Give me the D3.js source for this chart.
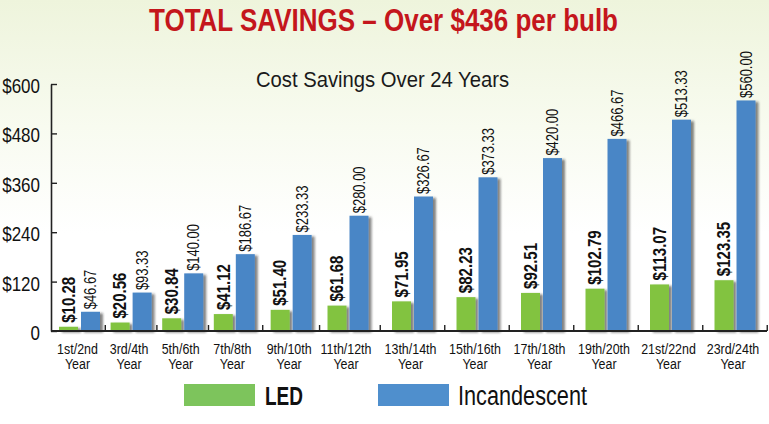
<!DOCTYPE html>
<html>
<head>
<meta charset="utf-8">
<script src="https://cdn.jsdelivr.net/npm/d3@7/dist/d3.min.js"></script>
<style>
  html, body { margin: 0; padding: 0; background: #fff; }
  svg { display: block; }
  text { font-family: "Liberation Sans", Arial, sans-serif; }
</style>
</head>
<body>
<svg id="chart" width="769" height="424"></svg>
<script>
// ---- data ----
const categories = ["1st/2nd", "3rd/4th", "5th/6th", "7th/8th", "9th/10th", "11th/12th",
                    "13th/14th", "15th/16th", "17th/18th", "19th/20th", "21st/22nd", "23rd/24th"];
const categorySuffix = "Year";
const ledValues = [10.28, 20.56, 30.84, 41.12, 51.40, 61.68, 71.95, 82.23, 92.51, 102.79, 113.07, 123.35];
const incValues = [46.67, 93.33, 140.00, 186.67, 233.33, 280.00, 326.67, 373.33, 420.00, 466.67, 513.33, 560.00];
const yTickValues = [0, 120, 240, 360, 480, 600];
const yTickLabels = ["0", "$120", "$240", "$360", "$480", "$600"];
const seriesNames = ["LED", "Incandescent"];
const titleText = "TOTAL SAVINGS \u2013 Over $436 per bulb";
const subtitleText = "Cost Savings Over 24 Years";

// ---- styles ----
const green = "#82c341", blue = "#4a86c6";
const legendGreen = "#7dc45c", legendBlue = "#4f8fcd";
const condense = 0.82; // emulate a condensed typeface

const svg = d3.select("#chart");
const defs = svg.append("defs");
const grad = defs.append("linearGradient").attr("id", "bg").attr("x1", 0).attr("y1", 0).attr("x2", 0).attr("y2", 1);
grad.append("stop").attr("offset", "0%").attr("stop-color", "#eef4dc");
grad.append("stop").attr("offset", "30%").attr("stop-color", "#f8fbf0");
grad.append("stop").attr("offset", "55%").attr("stop-color", "#ffffff");
grad.append("stop").attr("offset", "100%").attr("stop-color", "#ffffff");
const f = defs.append("filter").attr("id", "shadow").attr("x", "-20%").attr("y", "-5%").attr("width", "160%").attr("height", "115%");
f.append("feDropShadow").attr("dx", 3).attr("dy", 1.5).attr("stdDeviation", 1.3)
  .attr("flood-color", "#222").attr("flood-opacity", 0.55);

svg.append("rect").attr("width", 769).attr("height", 424).attr("fill", "url(#bg)");

// ---- scales ----
const y = d3.scaleLinear().domain([0, 600]).range([331, 84]);
// group centres (the original's spacing widens toward the right)
const x = d3.scaleLinear().domain([0, 3, 5, 11]).range([79.5, 234.3, 348, 735]);
const barW = 19, gap = 1.5;

// ---- title ----
svg.append("text").attr("x", 149).attr("y", 31)
  .attr("textLength", 469).attr("lengthAdjust", "spacingAndGlyphs")
  .attr("font-size", 30.5).attr("font-weight", "bold").attr("fill", "#c4161c")
  .text(titleText);

svg.append("text").attr("x", 256).attr("y", 86.5)
  .attr("textLength", 253).attr("lengthAdjust", "spacingAndGlyphs")
  .attr("font-size", 22.5).attr("fill", "#1a1a1a")
  .text(subtitleText);

// ---- bars ----
const idx = d3.range(categories.length);
const gBars = svg.append("g").attr("filter", "url(#shadow)");
gBars.selectAll("rect.led").data(idx).join("rect").attr("class", "led")
  .attr("x", i => x(i) - gap - barW).attr("width", barW)
  .attr("y", i => y(ledValues[i])).attr("height", i => y(0) - y(ledValues[i]))
  .attr("fill", green);
gBars.selectAll("rect.inc").data(idx).join("rect").attr("class", "inc")
  .attr("x", i => x(i) + gap).attr("width", barW)
  .attr("y", i => y(incValues[i])).attr("height", i => y(0) - y(incValues[i]))
  .attr("fill", blue);

// ---- value labels ----
svg.selectAll("text.ledv").data(idx).join("text").attr("class", "ledv")
  .attr("transform", i => `translate(${x(i) - gap - barW / 2},${y(ledValues[i]) - 4}) rotate(-90) scale(0.86,1)`)
  .attr("dy", "0.36em").attr("font-size", 17.5).attr("font-weight", "bold").attr("fill", "#111")
  .text(i => "$" + ledValues[i].toFixed(2));
svg.selectAll("text.incv").data(idx).join("text").attr("class", "incv")
  .attr("transform", i => `translate(${x(i) + gap + barW / 2},${y(incValues[i]) - 2.5}) rotate(-90) scale(0.81,1)`)
  .attr("dy", "0.36em").attr("font-size", 16).attr("fill", "#111")
  .text(i => "$" + incValues[i].toFixed(2));

// ---- y axis ----
const yAxis = d3.axisLeft(y).tickValues(yTickValues)
  .tickFormat((d, i) => yTickLabels[i]).tickSizeInner(-6).tickSizeOuter(0).tickPadding(11);
const gy = svg.append("g").attr("transform", "translate(51,0)").call(yAxis);
gy.select(".domain").attr("stroke", "#222").attr("stroke-width", 1.6);
gy.selectAll(".tick line").attr("stroke", "#222").attr("stroke-width", 1.4);
gy.selectAll(".tick text").attr("font-size", 20).attr("fill", "#111")
  .attr("x", null).attr("dy", null).attr("y", null)
  .attr("text-anchor", "end")
  .attr("transform", "translate(-11,8.5) scale(0.85,1)");

// ---- x axis ----
const gx = svg.append("g");
gx.append("line").attr("x1", 51).attr("x2", 767).attr("y1", y(0)).attr("y2", y(0))
  .attr("stroke", "#222").attr("stroke-width", 2);
gx.selectAll("line.tk").data(idx).join("line").attr("class", "tk")
  .attr("x1", i => x(i + 0.5)).attr("x2", i => x(i + 0.5))
  .attr("y1", y(0)).attr("y2", y(0) - 6).attr("stroke", "#222").attr("stroke-width", 1.4);
const cl = gx.selectAll("text.cat").data(idx).join("text").attr("class", "cat")
  .attr("transform", i => `translate(${x(i) - 2},0) scale(0.83,1)`)
  .attr("text-anchor", "middle").attr("font-size", 15).attr("fill", "#111");
cl.append("tspan").attr("x", 0).attr("y", 354).text(i => categories[i]);
cl.append("tspan").attr("x", 0).attr("y", 369).text(categorySuffix);

// ---- legend ----
const lg = svg.append("g");
lg.append("rect").attr("x", 184).attr("y", 384).attr("width", 71).attr("height", 22).attr("fill", legendGreen);
lg.append("text").attr("x", 265).attr("y", 405).attr("font-size", 26).attr("font-weight", "bold")
  .attr("textLength", 38).attr("lengthAdjust", "spacingAndGlyphs")
  .attr("fill", "#111").text(seriesNames[0]);
lg.append("rect").attr("x", 378).attr("y", 384).attr("width", 71).attr("height", 22).attr("fill", legendBlue);
lg.append("text").attr("x", 458).attr("y", 405).attr("font-size", 27)
  .attr("textLength", 129).attr("lengthAdjust", "spacingAndGlyphs")
  .attr("fill", "#111").text(seriesNames[1]);
</script>
</body>
</html>
